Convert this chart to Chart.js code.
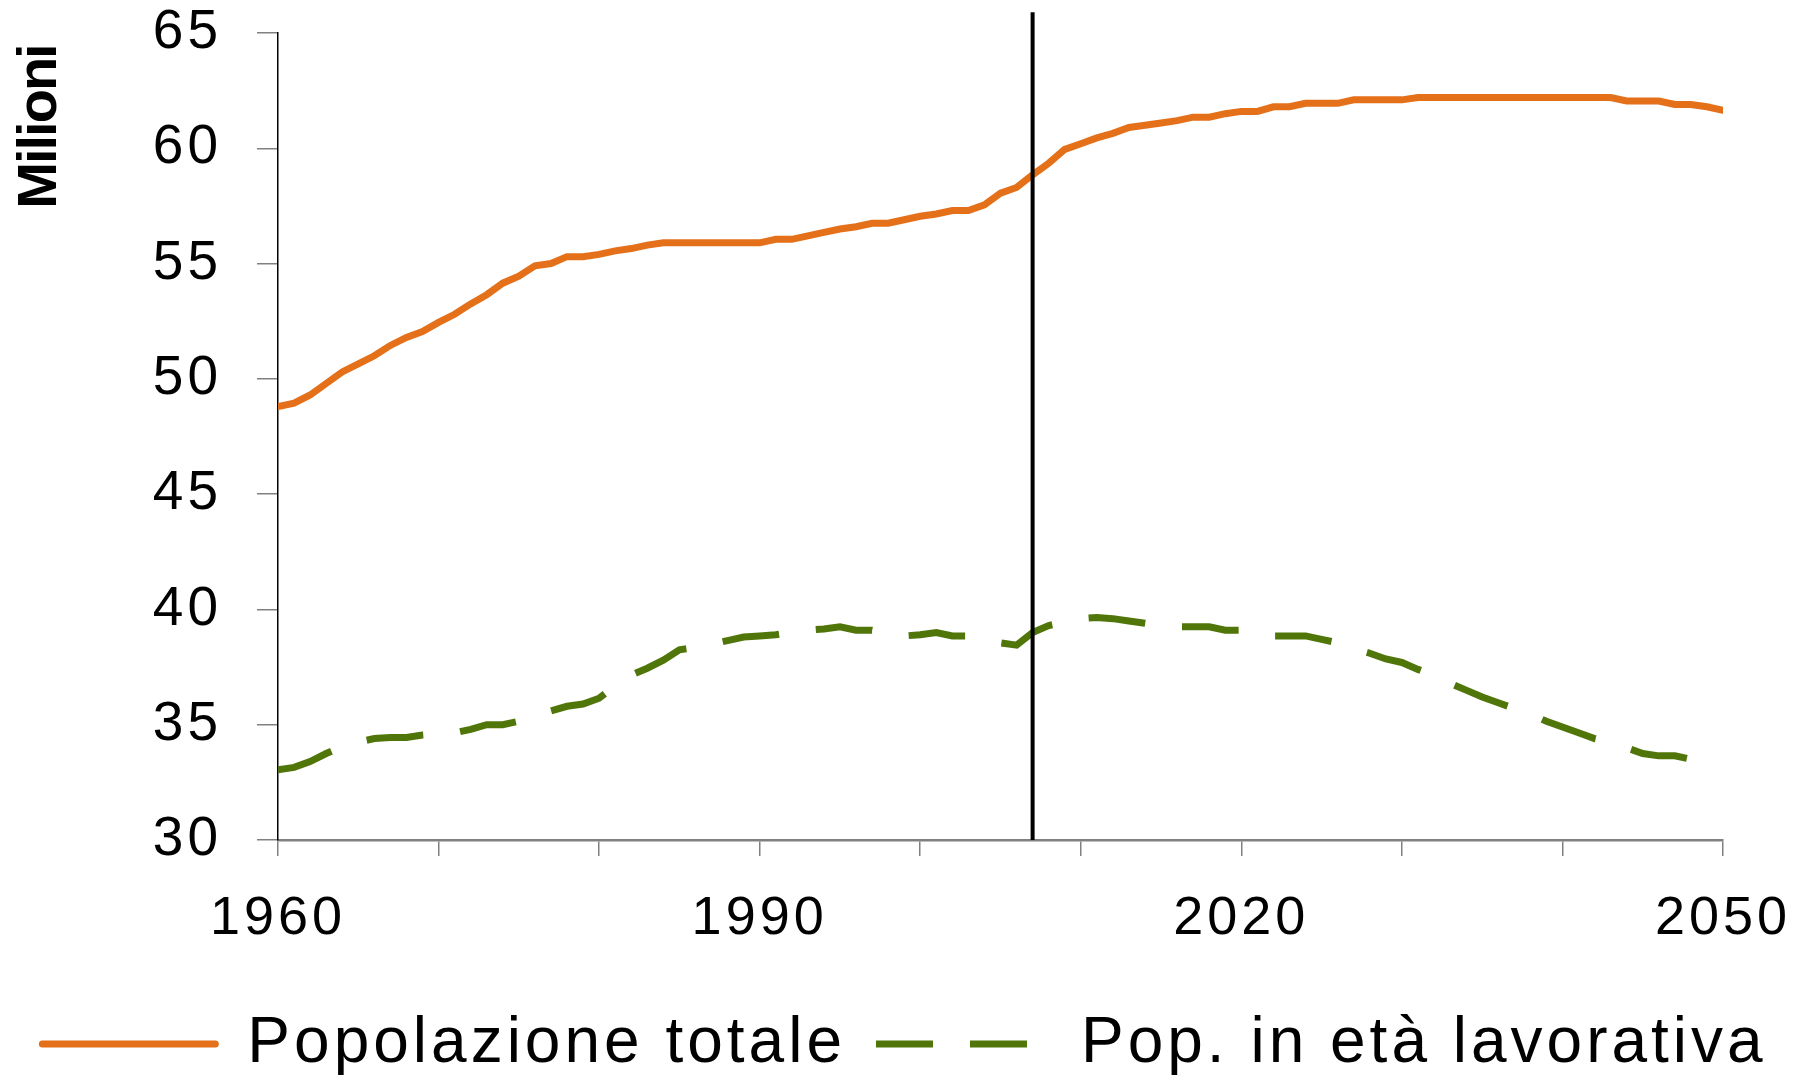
<!DOCTYPE html>
<html>
<head>
<meta charset="utf-8">
<script src="https://cdn.jsdelivr.net/npm/chart.js@4/dist/chart.umd.min.js"></script>
<style>
  body { margin: 0; background: #fff; }
  #box { width: 1809px; height: 1076px; }
</style>
</head>
<body>
<div id="box"><canvas id="grafico"></canvas></div>
<script>
// anni 1960-2050
var anni = [];
for (var a = 1960; a <= 2050; a++) anni.push(a);

// popolazione totale (milioni)
var popTotale = [
  48.8, 48.95, 49.3, 49.8, 50.3, 50.65, 51.0, 51.45, 51.8, 52.05,
  52.45, 52.8, 53.25, 53.65, 54.15, 54.45, 54.9, 55.0, 55.3, 55.3,
  55.4, 55.55, 55.65, 55.8, 55.9, 55.9, 55.9, 55.9, 55.9, 55.9,
  55.9, 56.05, 56.05, 56.2, 56.35, 56.5, 56.6, 56.75, 56.75, 56.9,
  57.05, 57.15, 57.3, 57.3, 57.55, 58.05, 58.3, 58.85, 59.35, 59.95,
  60.2, 60.45, 60.65, 60.9, 61.0, 61.1, 61.2, 61.35, 61.35, 61.5,
  61.6, 61.6, 61.8, 61.8, 61.95, 61.95, 61.95, 62.1, 62.1, 62.1,
  62.1, 62.2, 62.2, 62.2, 62.2, 62.2, 62.2, 62.2, 62.2, 62.2,
  62.2, 62.2, 62.2, 62.2, 62.05, 62.05, 62.05, 61.9, 61.9, 61.8,
  61.65
];

// popolazione in eta lavorativa (milioni)
var popLavoro = [
  33.05, 33.15, 33.4, 33.75, 34.05, 34.25, 34.4, 34.45, 34.45, 34.55,
  34.6, 34.65, 34.8, 35.0, 35.0, 35.15, 35.35, 35.6, 35.8, 35.9,
  36.15, 36.7, 37.15, 37.45, 37.8, 38.25, 38.35, 38.5, 38.65, 38.8,
  38.85, 38.9, 39.0, 39.1, 39.15, 39.25, 39.1, 39.1, 38.95, 38.85,
  38.9, 39.0, 38.85, 38.85, 38.7, 38.55, 38.45, 39.0, 39.3, 39.45,
  39.6, 39.65, 39.6, 39.5, 39.4, 39.3, 39.25, 39.25, 39.25, 39.1,
  39.1, 39.0, 38.85, 38.85, 38.85, 38.7, 38.55, 38.3, 38.1, 37.85,
  37.7, 37.4, 37.15, 36.8, 36.5, 36.2, 35.95, 35.7, 35.45, 35.15,
  34.9, 34.65, 34.4, 34.25, 34.0, 33.75, 33.65, 33.65, 33.5, 33.4,
  33.35
];

var nomiSerie = ['Popolazione totale', 'Pop. in et\u00e0 lavorativa'];
var titoloY = 'Milioni';
var annoLinea = 2007;      // linea verticale
var cimaLinea = 65.9;      // fin dove sale la linea
var etichetteX = [1960, 1990, 2020, 2050];

var fontBase = '"Liberation Sans", Arial, sans-serif';

function punti(valori) {
  return anni.map(function(anno, i) { return { x: anno, y: valori[i] }; });
}

// spaziatura lettere (il testo originale e' allargato)
var spaziatura = {
  id: 'spaziatura',
  beforeLayout: function(chart) { chart.ctx.letterSpacing = '4px'; },
  beforeDraw: function(chart) { chart.ctx.letterSpacing = '4px'; }
};

// linea verticale e titolo asse y
var extra = {
  id: 'extra',
  afterDatasetsDraw: function(chart) {
    var ctx = chart.ctx;
    var x = chart.scales.x.getPixelForValue(annoLinea);
    ctx.save();
    ctx.strokeStyle = '#000';
    ctx.lineWidth = 4;
    ctx.beginPath();
    ctx.moveTo(x, chart.scales.y.getPixelForValue(30));
    ctx.lineTo(x, chart.scales.y.getPixelForValue(cimaLinea));
    ctx.stroke();
    ctx.restore();
  },
  afterDraw: function(chart) {
    var ctx = chart.ctx;
    ctx.save();
    ctx.letterSpacing = '-2px';
    ctx.font = 'bold 56px ' + fontBase;
    ctx.fillStyle = '#000';
    ctx.textAlign = 'center';
    ctx.textBaseline = 'middle';
    ctx.translate(chart.scales.y.left + 41, chart.chartArea.top + 94);
    ctx.rotate(-Math.PI / 2);
    ctx.fillText(titoloY, 0, 0);
    ctx.restore();
  }
};

var ctx = document.getElementById('grafico').getContext('2d');

var grafico = new Chart(ctx, {
  type: 'line',
  data: {
    datasets: [{
      label: nomiSerie[0],
      data: punti(popTotale),
      borderColor: '#E4701A',
      backgroundColor: '#E4701A',
      borderWidth: 7,
      borderCapStyle: 'round',
      pointRadius: 0,
      tension: 0
    }, {
      label: nomiSerie[1],
      data: punti(popLavoro),
      borderColor: '#50760A',
      backgroundColor: '#50760A',
      borderWidth: 7,
      borderDash: [57, 37],
      pointRadius: 0,
      tension: 0
    }]
  },
  options: {
    responsive: true,
    maintainAspectRatio: false,
    animation: false,
    layout: { padding: { top: 33, right: 0, bottom: -10, left: 0 } },
    plugins: {
      tooltip: { enabled: false },
      legend: {
        position: 'bottom',
        labels: {
          usePointStyle: true,
          pointStyle: 'line',
          pointStyleWidth: 173,
          padding: 30,
          color: '#000',
          font: { family: fontBase, size: 64 },
          generateLabels: function(chart) {
            var voci = Chart.defaults.plugins.legend.labels.generateLabels(chart);
            voci.forEach(function(v, i) {
              var ds = chart.data.datasets[i];
              v.lineDash = ds.borderDash || [];
              v.lineWidth = ds.borderWidth;
              v.strokeStyle = ds.borderColor;
              v.lineCap = ds.borderDash ? 'butt' : 'round';
            });
            return voci;
          }
        }
      }
    },
    scales: {
      x: {
        type: 'linear',
        min: 1960,
        max: 2050,
        border: { display: true, color: '#808080', width: 2.5 },
        grid: { drawOnChartArea: false, tickLength: 16, color: '#808080', lineWidth: 1.5 },
        ticks: {
          stepSize: 10,
          autoSkip: false,
          maxRotation: 0,
          padding: 31,
          color: '#000',
          font: { family: fontBase, size: 54 },
          callback: function(v) { return etichetteX.indexOf(v) >= 0 ? String(v) : ''; }
        },
        afterFit: function(scale) {
          scale.height = 142;
          scale.paddingRight = 86;
        }
      },
      y: {
        min: 30,
        max: 65,
        border: { display: true, color: '#000', width: 1.5 },
        grid: { drawOnChartArea: false, tickLength: 21, color: '#808080', lineWidth: 1.5 },
        ticks: {
          stepSize: 5,
          padding: 35,
          color: '#000',
          font: { family: fontBase, size: 55 }
        },
        afterFit: function(scale) {
          scale.width = 278;
          scale.paddingTop = 0;
          scale.paddingBottom = 0;
        }
      }
    }
  },
  plugins: [spaziatura, extra]
});
</script>
</body>
</html>
